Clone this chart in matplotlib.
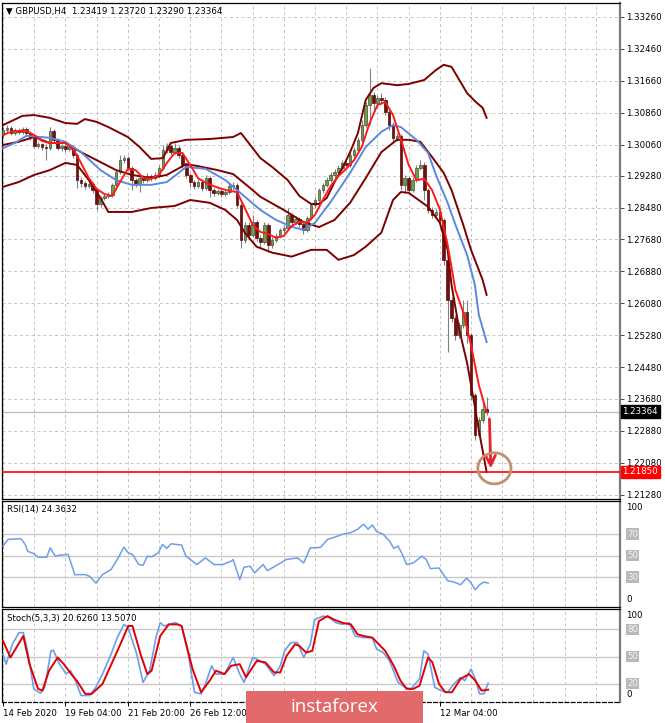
import matplotlib
matplotlib.use("Agg")
import matplotlib.pyplot as plt
from matplotlib.patches import Rectangle, Ellipse

# ---------- GBPUSD H4 candles (bar 0 = 14 Feb 12:00) ----------
o = [1.3030,1.3043,1.3048,1.3035,1.3043,1.3038,1.3045,1.3035,1.3025,1.3003,
     1.3008,1.3000,1.2997,1.3040,1.3018,1.2997,1.3003,1.2995,1.3000,1.2980,
     1.2917,1.2910,1.2902,1.2907,1.2892,1.2857,1.2872,1.2877,1.2880,1.2905,
     1.2937,1.2967,1.2972,1.2947,1.2917,1.2907,1.2922,1.2917,1.2927,1.2922,
     1.2930,1.2947,1.2992,1.3003,1.2987,1.2997,1.2980,1.2955,1.2930,1.2912,
     1.2902,1.2912,1.2897,1.2922,1.2892,1.2885,1.2890,1.2882,1.2887,1.2902,
     1.2905,1.2855,1.2767,1.2805,1.2780,1.2812,1.2772,1.2762,1.2805,1.2755,
     1.2767,1.2777,1.2792,1.2797,1.2830,1.2812,1.2820,1.2807,1.2792,1.2822,
     1.2855,1.2867,1.2892,1.2905,1.2917,1.2930,1.2937,1.2947,1.2960,1.2955,
     1.2980,1.2992,1.3018,1.3055,1.3105,1.3130,1.3110,1.3123,1.3118,1.3088,
     1.3055,1.3023,1.3028,1.2905,1.2922,1.2892,1.2917,1.2947,1.2955,1.2892,
     1.2842,1.2830,1.2837,1.2817,1.2717,1.2616,1.2571,1.2528,1.2554,1.2586,
     1.2528,1.2378,1.2278,1.2315,1.23419]
c = [1.3043,1.3048,1.3035,1.3043,1.3038,1.3045,1.3035,1.3025,1.3003,1.3008,
     1.3000,1.2997,1.3040,1.3018,1.2997,1.3003,1.2995,1.3000,1.2980,1.2917,
     1.2910,1.2902,1.2907,1.2892,1.2857,1.2872,1.2877,1.2880,1.2905,1.2937,
     1.2967,1.2972,1.2947,1.2917,1.2907,1.2922,1.2917,1.2927,1.2922,1.2930,
     1.2947,1.2992,1.3003,1.2987,1.2997,1.2980,1.2955,1.2930,1.2912,1.2902,
     1.2912,1.2897,1.2922,1.2892,1.2885,1.2890,1.2882,1.2887,1.2902,1.2905,
     1.2855,1.2767,1.2805,1.2780,1.2812,1.2772,1.2762,1.2805,1.2755,1.2767,
     1.2777,1.2792,1.2797,1.2830,1.2812,1.2820,1.2807,1.2792,1.2822,1.2855,
     1.2867,1.2892,1.2905,1.2917,1.2930,1.2937,1.2947,1.2960,1.2955,1.2980,
     1.2992,1.3018,1.3055,1.3105,1.3130,1.3110,1.3123,1.3118,1.3088,1.3055,
     1.3023,1.3028,1.2905,1.2922,1.2892,1.2917,1.2947,1.2955,1.2892,1.2842,
     1.2830,1.2837,1.2817,1.2717,1.2616,1.2571,1.2528,1.2554,1.2586,1.2528,
     1.2378,1.2278,1.2315,1.2342,1.23364]
h = [1.3050,1.3055,1.3053,1.3048,1.3048,1.3050,1.3050,1.3040,1.3030,1.3013,
     1.3010,1.3008,1.3050,1.3045,1.3023,1.3008,1.3008,1.3005,1.3005,1.2985,
     1.2925,1.2915,1.2915,1.2912,1.2897,1.2877,1.2885,1.2887,1.2910,1.2942,
     1.2980,1.2980,1.2977,1.2952,1.2922,1.2927,1.2930,1.2935,1.2932,1.2937,
     1.2955,1.3005,1.3010,1.3008,1.3010,1.3003,1.2985,1.2960,1.2935,1.2917,
     1.2920,1.2917,1.2930,1.2927,1.2897,1.2895,1.2895,1.2892,1.2910,1.2912,
     1.2910,1.2860,1.2812,1.2812,1.2830,1.2817,1.2780,1.2812,1.2810,1.2775,
     1.2785,1.2797,1.2805,1.2847,1.2835,1.2827,1.2825,1.2812,1.2827,1.2860,
     1.2875,1.2897,1.2910,1.2925,1.2937,1.2945,1.2955,1.2967,1.2967,1.2987,
     1.3000,1.3025,1.3068,1.3113,1.3198,1.3138,1.3130,1.3135,1.3125,1.3093,
     1.3063,1.3035,1.3033,1.2930,1.2927,1.2925,1.2955,1.2967,1.2962,1.2897,
     1.2850,1.2844,1.2842,1.2822,1.2722,1.2624,1.2579,1.2561,1.2616,1.2616,
     1.2533,1.2383,1.2323,1.2365,1.23720]
l = [1.3023,1.3035,1.3030,1.3030,1.3033,1.3033,1.3030,1.3018,1.2997,1.2997,
     1.2992,1.2967,1.2992,1.3010,1.2992,1.2990,1.2987,1.2990,1.2972,1.2897,
     1.2900,1.2895,1.2897,1.2885,1.2842,1.2850,1.2867,1.2872,1.2875,1.2900,
     1.2932,1.2960,1.2942,1.2892,1.2900,1.2887,1.2910,1.2912,1.2915,1.2917,
     1.2925,1.2942,1.2985,1.2980,1.2982,1.2972,1.2947,1.2922,1.2900,1.2895,
     1.2897,1.2890,1.2892,1.2875,1.2877,1.2880,1.2875,1.2877,1.2882,1.2892,
     1.2847,1.2747,1.2760,1.2767,1.2775,1.2765,1.2747,1.2757,1.2737,1.2747,
     1.2762,1.2772,1.2785,1.2792,1.2805,1.2807,1.2800,1.2782,1.2787,1.2817,
     1.2847,1.2862,1.2885,1.2900,1.2912,1.2922,1.2932,1.2942,1.2947,1.2950,
     1.2975,1.2987,1.3013,1.3050,1.3055,1.3088,1.3098,1.3108,1.3080,1.3043,
     1.3013,1.3015,1.2892,1.2885,1.2885,1.2887,1.2912,1.2942,1.2867,1.2835,
     1.2822,1.2822,1.2810,1.2704,1.2486,1.2561,1.2516,1.2521,1.2546,1.2508,
     1.2365,1.2265,1.2273,1.2308,1.23290]

# ---------- overlays (bar, price) ----------
bb_up_bar = [0,5,8,12,16,19,21,24,27,32,35,38,41,43,47,53,59,61,63,66,69,73,76,79,81,
             83,85,87,89,91,93,95,97,101,104,108,111,113,115,117,119,121,123,124]
bb_up = [1.3055,1.3078,1.3080,1.3073,1.3060,1.3058,1.3070,1.3063,1.3050,1.3025,1.3000,
         1.2970,1.2972,1.3010,1.3018,1.3020,1.3025,1.3035,1.3010,1.2972,1.2950,1.2917,
         1.2877,1.2857,1.2857,1.2872,1.2912,1.2947,1.2987,1.3035,1.3118,1.3148,1.3160,
         1.3155,1.3158,1.3168,1.3193,1.3206,1.3201,1.3168,1.3135,1.3115,1.3098,1.3073]
bb_mid_bar = [0,4,8,12,16,20,25,29,33,38,42,47,50,55,59,63,66,72,77,81,85,89,93,97,
              101,104,107,110,113,115,118,120,123,124]
bb_mid = [1.3005,1.3013,1.3025,1.3010,1.3010,1.2987,1.2962,1.2942,1.2930,1.2922,1.2930,
          1.2957,1.2952,1.2942,1.2932,1.2900,1.2875,1.2842,1.2812,1.2799,1.2817,1.2860,
          1.2922,1.2987,1.3018,1.3018,1.3013,1.2975,1.2935,1.2892,1.2805,1.2742,1.2666,1.2629]
bb_lo_bar = [0,4,8,12,16,19,22,25,27,33,38,44,48,53,57,60,62,65,69,74,79,83,86,90,93,
             97,100,102,104,109,112,114,115,117,119,121,122,124]
bb_lo = [1.2900,1.2912,1.2930,1.2942,1.2960,1.2955,1.2917,1.2872,1.2837,1.2837,1.2847,
         1.2852,1.2867,1.2860,1.2842,1.2817,1.2785,1.2750,1.2735,1.2725,1.2742,1.2742,
         1.2717,1.2729,1.2750,1.2785,1.2867,1.2887,1.2885,1.2850,1.2810,1.2742,1.2654,
         1.2541,1.2458,1.2348,1.2290,1.2185]
ma_blue_bar = [0,3,6,12,16,20,25,29,33,38,42,47,52,57,60,63,66,70,74,77,80,84,89,93,97,
               100,102,106,109,111,114,116,119,121,122,124]
ma_blue = [1.2997,1.3010,1.3028,1.3023,1.3013,1.2987,1.2942,1.2917,1.2905,1.2905,1.2912,
           1.2950,1.2945,1.2917,1.2892,1.2867,1.2842,1.2817,1.2800,1.2792,1.2810,1.2862,
           1.2935,1.3000,1.3038,1.3055,1.3050,1.3018,1.2985,1.2930,1.2860,1.2805,1.2729,
           1.2654,1.2579,1.2511]
ma_red_bar = list(range(0, 125, 2))
ma_red = [1.3030,1.3038,1.3040,1.3040,1.3030,1.3015,1.3010,1.3010,1.3010,1.2995,
          1.2960,1.2922,1.2895,1.2882,1.2877,1.2912,1.2945,1.2942,1.2922,1.2920,
          1.2930,1.2960,1.2985,1.2985,1.2955,1.2922,1.2910,1.2902,1.2895,1.2890,
          1.2887,1.2847,1.2805,1.2787,1.2782,1.2772,1.2777,1.2802,1.2812,1.2810,
          1.2830,1.2867,1.2902,1.2927,1.2945,1.2967,1.3000,1.3060,1.3105,1.3113,
          1.3080,1.3020,1.2955,1.2917,1.2920,1.2892,1.2844,1.2755,1.2641,1.2586,
          1.2503,1.2403,1.2335]

bid = 1.23364
support = 1.21850
price_ticks = [1.33260,1.32460,1.31660,1.30860,1.30060,1.29280,1.28480,1.27680,
               1.26880,1.26080,1.25280,1.24480,1.23680,1.22880,1.22080,1.21280]

# ---------- oscillators ----------
rsi_bar = [0,1.3,4.6,5.7,6.3,7.9,9,11.2,12.1,13.4,14.5,16.7,18.4,21.1,22.2,23.8,25.5,27.7,
           29.3,31,32.1,33.2,34.8,35.9,37,38.1,39.8,40.9,42,43.1,45.8,46.9,49.7,51.9,53,
           54.1,56.3,58.5,59,60.7,61.8,63.4,64.5,66.7,67.8,70.5,72.7,75.5,77.1,78.8,80.4,
           81.5,83.2,85.9,87,89.2,90.9,92.5,93.6,94.7,95.8,97.5,99.1,100.2,101.3,102.4,
           103.5,105.2,107.4,108.5,109.6,111.8,114,115.6,117.3,118.9,120,121.1,122.2,123.3,124.4]
rsi = [58.8,65,65.6,60.3,54,51.6,48.4,48.4,57.2,49.4,50.3,51,32.2,32.2,30.6,24.4,32.2,36.9,
       46.3,57.8,52.5,51,41.6,40.9,49.4,48.8,52.5,60.3,56.6,60.9,59.7,49.4,41.6,47.8,44.7,
       41.6,41.6,44.7,46.3,27.5,39.1,40,33.8,41.6,35.9,41.6,46.3,47.8,43.1,57.2,57.2,
       57.8,65,68.1,69.7,71.3,74.4,79.1,74.4,78.4,72.2,69.7,63.4,56.6,58.8,50.9,
       41.6,43.1,49.4,46.3,37.8,38.4,26.6,25.3,22.8,29.1,24.4,18.1,22.8,25.3,24.4]
stk_bar = [0,0.8,2.4,4.1,5.2,6.3,7.9,9.6,10.7,12.3,12.9,14.5,16.2,17.3,18.4,20,22.2,23.8,
           25.5,27.7,29.3,31,32.1,34.3,35.9,37.6,39.2,40.3,41.4,42.5,44.2,45.8,47.5,49.1,
           50.8,51.9,53.5,54.6,56.8,59,60.7,61.8,64,65.1,67.3,69.5,71.1,72.2,73.8,75.5,
           77.1,78.8,79.9,82.1,83.7,85.4,87,88.7,90.3,92.5,94.7,95.8,97.5,99.1,101.3,103,
           104.6,106.8,107.9,109,110.7,112.3,114,115.6,117.3,118.4,120,121.1,122.2,123.3,124.4]
stk = [52.5,41.6,63.5,76.2,76.2,56.2,14.4,9.6,16.2,56.2,56.9,41.6,30.7,34.4,25.3,7.1,7.1,
       16.2,30.7,52.5,70.7,85.3,81.6,52.5,21.6,34.4,70.7,87.1,83.5,85.3,87.1,83.5,52.5,
       10.7,8.9,19.8,39.8,30.7,30.7,48.9,30.7,21.6,48.9,47.1,41.6,28.9,39.8,56.2,65.3,
       65.3,48.9,63.5,90.7,94.4,92.5,87.1,85.3,87.1,72.5,70.7,70.7,58,54.4,45.3,21.6,
       16.2,14.4,25.3,56.2,52.5,16.2,12.5,10.7,19.8,27.1,23.5,36.2,25.3,8.9,8.9,20.6]
std_bar = [0,1.9,5.2,6.8,9,10.1,11.8,14,15.6,17.8,18.9,21.1,22.7,25.5,29.9,32.1,33.2,35.4,
           37,38.1,40.3,42.5,44.7,45.8,48.6,50.8,53,54.6,56.8,58.5,60.7,62.3,65.1,67.3,
           69.5,71.1,72.7,74.9,76,77.7,79.3,81,83.2,84.8,87,89.2,90.9,92.5,94.7,98,100.2,
           101.9,103.5,105.2,106.8,109,110.1,111.8,113.4,115.1,117.3,119.5,121.1,122.7,124.4]
std = [67.1,48.9,72.5,41.6,14.4,12.5,34.4,48.9,41.6,28.9,23.5,8.9,8.9,19.8,61.6,83.5,83.5,
       50.7,30.7,34.4,72.5,85.3,85.3,83.5,36.2,10.7,23.5,34.4,30.7,39.8,41.6,27.1,45.3,
       43.5,32.5,32.5,50.7,63.5,61.6,54.4,56.2,88.9,94.4,90.7,87.1,85.3,74.4,72.5,70.7,
       56.2,39.8,23.5,14.4,14.4,18,48.9,43.5,19.8,10.7,10.7,25.3,30.7,23.5,12.5,13.5]

# time scale: labels every 16 bars; the three under the watermark are not visible
date_bar = [0, 16, 32, 48, 64, 80, 96, 112]
date_lab = ["14 Feb 2020", "19 Feb 04:00", "21 Feb 20:00", "26 Feb 12:00",
            "", "", "", "12 Mar 04:00"]

# ---------- layout (pixel boxes of the MT4 window) ----------
W, H = 665, 723
fig = plt.figure(figsize=(W / 100, H / 100), dpi=100)
def px_box(x0, y0, x1, y1):
    return [x0 / W, 1 - y1 / H, (x1 - x0) / W, (y1 - y0) / H]

ax = fig.add_axes(px_box(2, 3, 620, 499))
ar = fig.add_axes(px_box(2, 501, 620, 607))
ast = fig.add_axes(px_box(2, 609, 620, 702))
XL = (-0.26, 158.2)
FS = 6.2
GRID = dict(color="#c4c4c4", lw=0.7, ls=(0, (3, 3)), zorder=0)

for a in (ax, ar, ast):
    a.set_xlim(*XL)
    for g in range(0, 158, 8):
        a.axvline(g, **GRID)
    for s in ("left", "top", "bottom"):
        a.spines[s].set_color("black"); a.spines[s].set_linewidth(0.9)
    a.spines["right"].set_color("#7a7a7a"); a.spines["right"].set_linewidth(1.6)
    a.yaxis.tick_right()
    a.tick_params(axis="y", length=3, width=0.7, colors="#444444", labelsize=FS,
                  labelcolor="black", pad=1)
    a.tick_params(axis="x", length=0, labelbottom=False)

# ---------- price panel ----------
ax.set_ylim(1.21171, 1.33611)
ax.set_yticks(price_ticks)
ax.set_yticklabels([f"{v:.5f}" for v in price_ticks])
for v in price_ticks:
    ax.axhline(v, **GRID)

xs = range(len(c))
ax.vlines(xs, l, h, color="#808080", lw=0.8, zorder=2)
for i in xs:
    up = c[i] >= o[i]
    lo_, hi_ = min(o[i], c[i]), max(o[i], c[i])
    ax.add_patch(Rectangle((i - 0.33, lo_), 0.66, max(hi_ - lo_, 0.00008),
                           fc="#6aa33a" if up else "#6e1010",
                           ec="#4a4a4a" if up else "#5a0c0c", lw=0.5, zorder=3))

ax.plot(bb_up_bar, bb_up, color="#7d0000", lw=1.4, zorder=4)
ax.plot(bb_lo_bar, bb_lo, color="#7d0000", lw=1.4, zorder=4)
ax.plot(bb_mid_bar, bb_mid, color="#7d0000", lw=1.4, zorder=4)
ax.plot(ma_blue_bar, ma_blue, color="#5b88e0", lw=1.4, zorder=5)
ax.plot(ma_red_bar, ma_red, color="#ff1a1a", lw=1.4, zorder=6)

ax.axhline(bid, color="#bdbdbd", lw=0.9, zorder=1)
ax.axhline(support, color="#ff0000", lw=1.2, zorder=6)
ytr = ax.get_yaxis_transform()
ax.text(1.004, bid, f"{bid:.5f}", transform=ytr, fontsize=FS, color="white", va="center",
        ha="left", zorder=10, clip_on=False,
        bbox=dict(boxstyle="square,pad=0.2", fc="black", ec="black"))
ax.text(1.004, support, f"{support:.5f}", transform=ytr, fontsize=FS, color="white",
        va="center", ha="left", zorder=10, clip_on=False,
        bbox=dict(boxstyle="square,pad=0.2", fc="#ff0000", ec="#ff0000"))

# hand-drawn target arrow and circle
ax.annotate("", xy=(125.1, support + 0.0002), xytext=(124.7, 1.2325),
            arrowprops=dict(arrowstyle="->,head_length=0.7,head_width=0.35",
                            color="#e8222a", lw=2), zorder=8)
ax.add_patch(Ellipse((126.0, support + 0.0009), 8.5, 0.0078, fill=False,
                     ec="#c09070", lw=2, zorder=8))
ax.text(0.006, 0.993, "\u25bc GBPUSD,H4  1.23419 1.23720 1.23290 1.23364",
        transform=ax.transAxes, fontsize=FS, va="top", ha="left")

# ---------- RSI ----------
ar.set_ylim(2.1, 100.7)
ar.set_yticks([])
for lv in (70, 50, 30):
    ar.axhline(lv, color="#c8c8c8", lw=1.0, zorder=1)
ar.plot(rsi_bar, rsi, color="#6d9eeb", lw=1.1, zorder=3)
ar.text(0.008, 0.96, "RSI(14) 24.3632", transform=ar.transAxes, fontsize=FS, va="top")

# ---------- Stochastic ----------
ast.set_ylim(0, 102.2)
ast.set_yticks([])
for lv in (80, 50, 20):
    ast.axhline(lv, color="#c8c8c8", lw=1.0, zorder=1)
ast.plot(stk_bar, stk, color="#6d9eeb", lw=1.2, zorder=3)
ast.plot(std_bar, std, color="#e00000", lw=1.4, zorder=4)
ast.text(0.008, 0.95, "Stoch(5,3,3) 20.6260 13.5070", transform=ast.transAxes,
         fontsize=FS, va="top")
ast.spines["bottom"].set_linestyle((0, (3, 2)))
ast.set_xticks(date_bar)
ast.set_xticklabels(date_lab, fontsize=FS, ha="left")
ast.tick_params(axis="x", length=3, width=0.7, labelbottom=True, pad=2)

# level labels on the right of the oscillators
for a, levels in ((ar, (70, 50, 30)), (ast, (80, 50, 20))):
    yt = a.get_yaxis_transform()
    a.text(1.01, 0.98, "100", transform=a.transAxes, fontsize=FS, va="top", ha="left")
    a.text(1.01, 0.03, "0", transform=a.transAxes, fontsize=FS, va="bottom", ha="left")
    for lv in levels:
        a.text(1.012, lv, str(lv), transform=yt, fontsize=FS, va="center", ha="left",
               color="#f4f4f4", clip_on=False,
               bbox=dict(boxstyle="square,pad=0.12", fc="#b9b9b9", ec="none"))

# ---------- watermark ----------
fig.add_artist(Rectangle((246 / W, 0), (423 - 246) / W, (723 - 691) / H,
                         transform=fig.transFigure, fc="#e26a6a", ec="none", zorder=20))
fig.text(334 / W, 1 - 707 / H, "instaforex", color="white", fontsize=13.5,
         family="Open Sans", ha="center", va="center", zorder=21)

fig.savefig("out.png", dpi=100, facecolor="white")
